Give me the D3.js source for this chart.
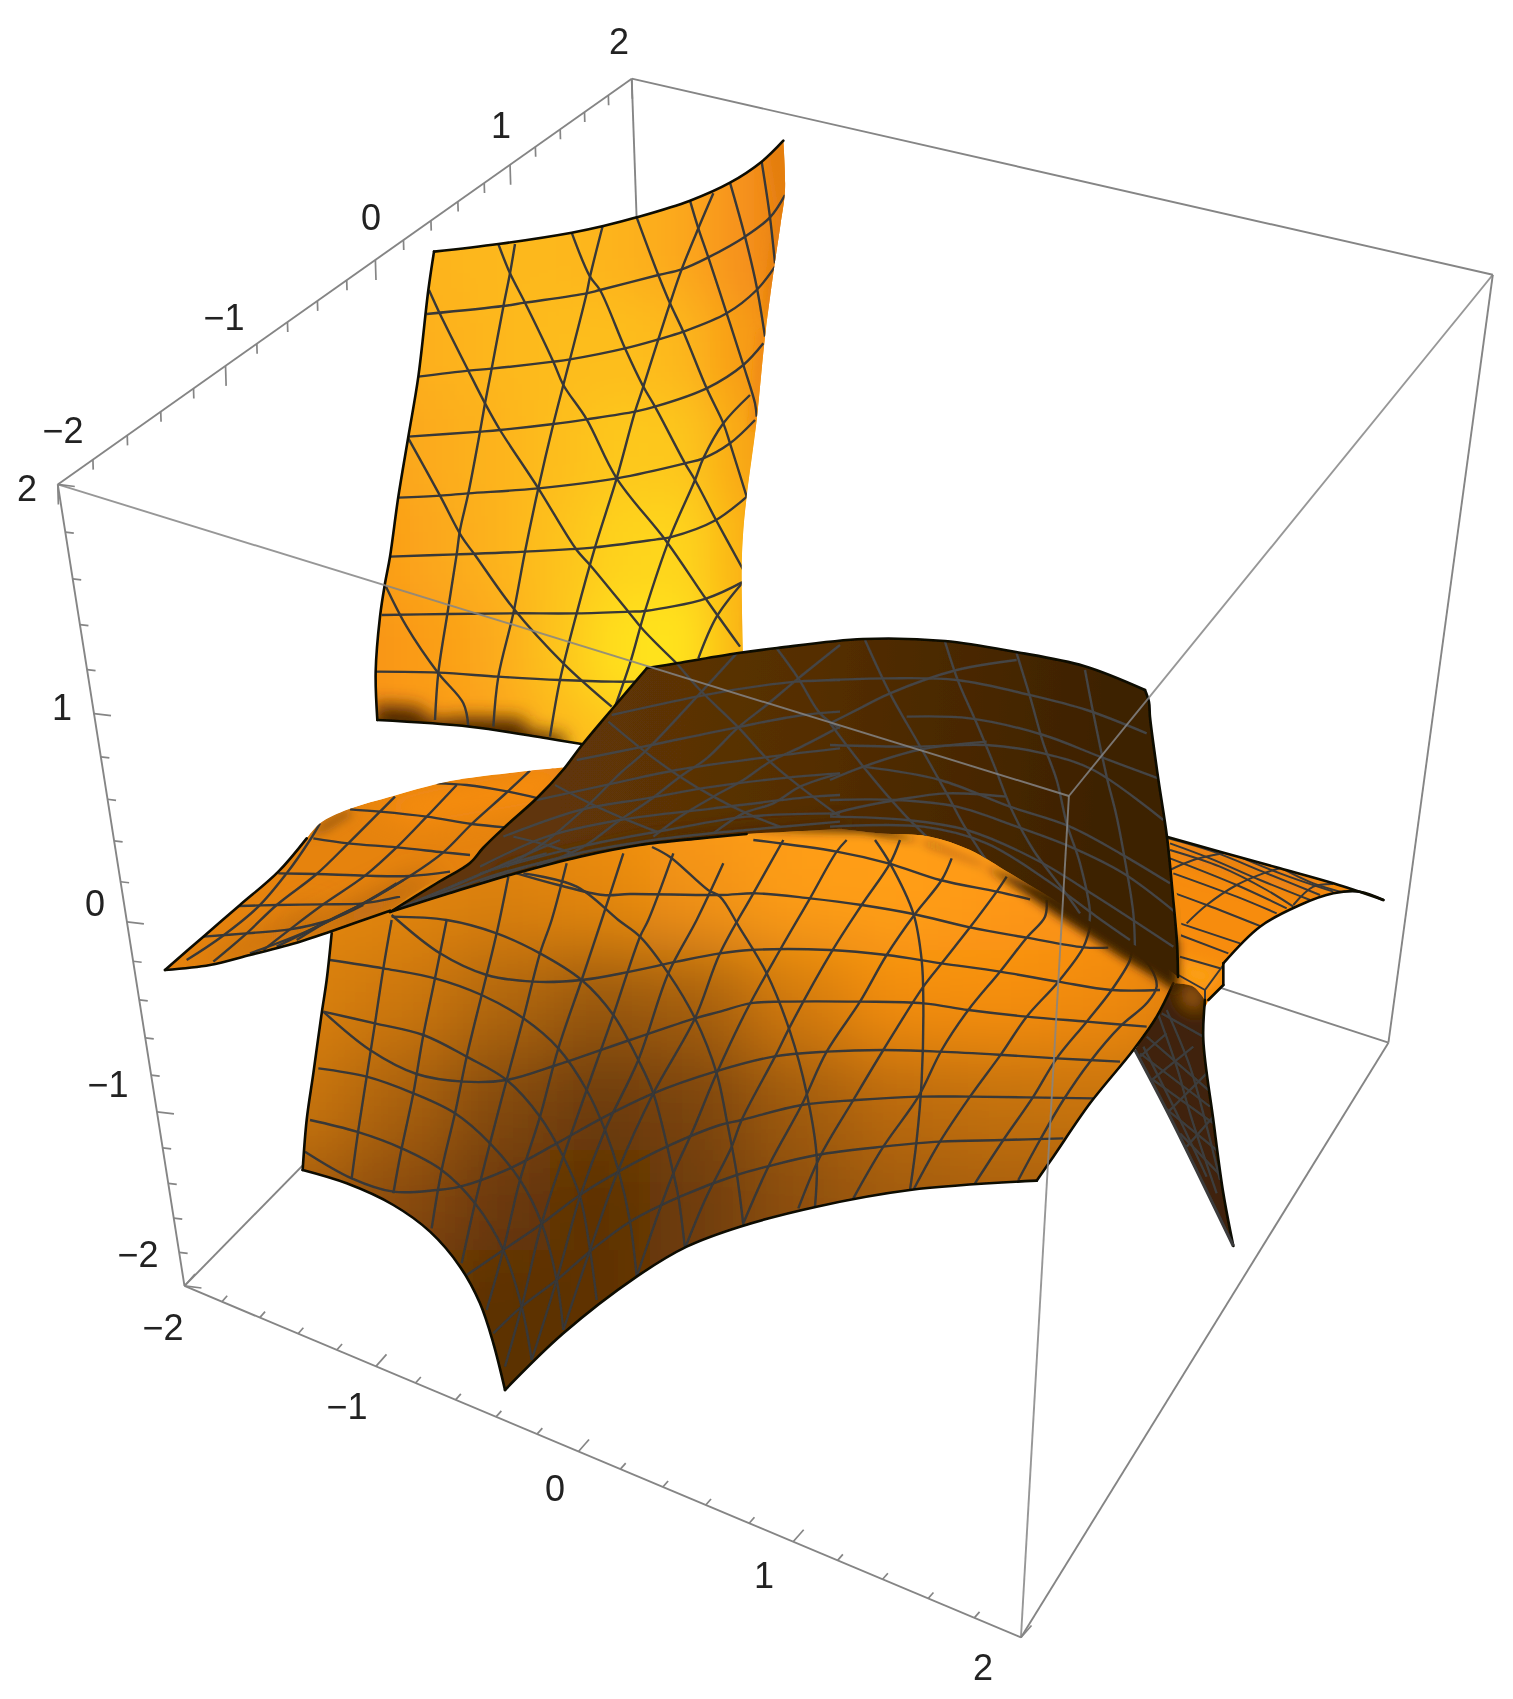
<!DOCTYPE html>
<html><head><meta charset="utf-8">
<script src="https://cdnjs.cloudflare.com/ajax/libs/d3/7.8.5/d3.min.js"></script>
<style>html,body{margin:0;padding:0;background:#fff}svg{display:block}</style></head>
<body><svg id="c" width="1513" height="1699"></svg>
<script>
// ---------- cube: domain corners and where they were read on the picture ----------
const cubeDomain = [[-2,-2,2],[-2,2,2],[2,2,2],[2,-2,2],[-2,-2,-2],[2,-2,-2],[2,2,-2]];
const cubeRead   = [[58,484],[632,79],[1493,274],[1068,797],[184,1286],[1022,1637],[1388,1043]];
const hiddenCorner = [-2,2,-2];
const tickValues = [-2,-1.8,-1.6,-1.4,-1.2,-1,-0.8,-0.6,-0.4,-0.2,0,0.2,0.4,0.6,0.8,1,1.2,1.4,1.6,1.8,2];
const labelValues = [-2,-1,0,1,2];
const xLabelAt = [[163,1327],[347,1406],[555,1488],[764,1575],[983,1667]];
const yLabelAt = [[63,430],[224,317],[371,217],[501,125],[619,41]];
const zLabelAt = [[138,1254],[108,1084],[95,903],[62,707],[27,488]];

const frameY=[360,130], frameL=[290,920], frameW=[150,720], frameDL=[480,640], frameDR=[830,630], frameR=[1080,780];

const yellowRuns=[
[[222,365],[415,342],[635,308],[730,288],[830,262],[990,212],[1110,158],[1205,95],[1270,32]],
[[1270,32],[1275,180],[1262,280],[1240,430],[1215,620],[1190,870],[1160,1100],[1150,1200],[1145,1320],[1150,1600]],
[[1150,1600],[760,1900],[665,1842]],
[[665,1842],[560,1825],[330,1790],[52,1770]],
[[52,1770],[47,1625],[60,1460],[75,1360],[90,1280],[115,1100],[145,920],[175,740],[205,480],[222,365]]
];
const yellowEdgeRuns=[0,3,4];
const yellowMesh=[
[[200,552],[430,528],[495,518],[680,490],[720,480],[895,435],[965,418],[1045,382],[1155,320],[1230,262],[1275,195]],
[[175,740],[325,722],[395,716],[580,695],[630,688],[795,655],[895,628],[970,605],[1100,550],[1190,480],[1245,410]],
[[145,920],[360,905],[420,900],[580,882],[680,868],[825,845],[885,830],[1040,775],[1150,705],[1210,640]],
[[115,1103],[240,1097],[325,1090],[535,1075],[770,1045],[975,1000],[1030,985],[1110,940],[1185,870]],
[[90,1280],[290,1273],[495,1265],[705,1252],[890,1228],[930,1222],[1068,1170],[1160,1100]],
[[65,1455],[265,1452],[460,1450],[650,1450],[810,1445],[855,1443],[1040,1405],[1150,1355]],
[[47,1625],[235,1628],[415,1640],[600,1650],[760,1655],[830,1655]],
[[465,342],[450,430],[430,530],[395,716],[375,820],[360,905],[325,1090],[300,1200],[290,1273],[262,1452],[235,1628],[225,1770]],
[[728,288],[690,440],[680,490],[630,688],[610,765],[580,882],[535,1075],[495,1265],[460,1450],[415,1640],[400,1790]],
[[1060,190],[1015,295],[965,418],[930,520],[895,628],[850,770],[825,845],[770,1045],[705,1252],[650,1450],[600,1650],[570,1820]],
[[1170,795],[1090,880],[1030,985],[1005,1050],[930,1222],[855,1443],[810,1600],[765,1730]],
[[1150,1355],[1070,1460],[1015,1585]],
[[415,342],[450,430],[495,518],[580,695],[610,765],[680,868],[770,1045],[920,1235],[1040,1410],[1140,1550]],
[[635,308],[690,440],[720,480],[795,655],[850,770],[885,830],[975,1000],[1005,1050],[1068,1170],[1150,1320]],
[[830,262],[895,435],[930,520],[970,605],[1040,775],[1090,880],[1110,940],[1160,1100]],
[[990,212],[1015,295],[1045,382],[1100,550],[1150,705],[1185,820],[1190,860]],
[[1110,158],[1155,320],[1190,470],[1215,620]],
[[1205,95],[1230,262],[1245,400]],
[[207,480],[240,552],[325,722],[375,820],[420,900],[535,1075],[650,1260],[690,1305],[805,1445],[850,1500],[950,1600]],
[[145,925],[240,1097],[305,1220],[345,1275],[460,1435],[610,1600],[755,1730]],
[[78,1370],[140,1490],[235,1630],[310,1720],[325,1790]]
];
const yellowFieldX=[380,440,500,560,620,680,740,800];
const yellowFieldY=[150,250,350,450,550,650,750,850];
const yellowFieldColors=[
["#fdaf1c","#fdb51d","#fdb81d","#fdb81d","#fdb31c","#fca81a","#f7921a","#e57e10"],
["#fdaf1c","#fdb51d","#fdb81d","#fdb81d","#fdb31c","#fca81a","#f7921a","#e57e10"],
["#fcab1b","#fdb11c","#fdb71d","#fdbc1d","#fdbe1d","#fdb81c","#f89c14","#ee8a10"],
["#fba41a","#fcac1b","#fdb41c","#fdbe1d","#fdc81e","#fdc71e","#f9a815","#f09012"],
["#fa9e19","#fba81a","#fdb31c","#fdc21e","#fed31f","#fed61f","#fbb218","#f5a014"],
["#f99618","#fa9f18","#fcac1a","#fdc41d","#ffe01f","#ffe41f","#fab416","#f5a014"],
["#f99217","#fa9a16","#fba217","#fdb71a","#fec71c","#fdd01d","#f9a913","#f5a014"],
["#f99217","#fa9a16","#fba217","#fdb71a","#fec71c","#fdd01d","#f9a913","#f5a014"]
];
const yellowShade=[
{c:"#e47e0e",b:6,p:[[1215,60],[1285,0],[1300,300],[1245,560],[1215,560],[1250,280]]},
{c:"#f08a12",b:4,p:[[1195,600],[1225,600],[1195,900],[1170,900]]},
{c:"#ef8d10",b:3,p:[[1165,1120],[1180,1120],[1165,1500],[1152,1500]]},
{c:"#4e2804",b:9,p:[[40,1722],[180,1732],[210,1772],[320,1762],[490,1766],[500,1802],[610,1816],[620,1880],[40,1832]]}
];

const lowerRuns=[
[[125,0],[125,40],[110,180],[95,280],[70,460],[50,600],[38,750]],
[[38,750],[170,790],[310,855],[420,935],[510,1040],[570,1150],[610,1270],[645,1410]],
[[645,1410],[820,1240],[1040,1070],[1190,980],[1350,920],[1580,860],[1860,810],[2240,782]],
[[2240,782],[2290,710],[2400,550],[2530,390],[2600,290],[2650,190]],
[[2650,190],[2650,-100],[2000,-400],[1000,-400],[300,-70],[125,0]]
];
const lowerEdgeRuns=[1,2,3];
const lowerLeftEdge=[[125,40],[110,180],[95,280],[70,460],[50,600],[38,750]];
const lowerMesh=[
[[45,695],[185,775],[310,815],[440,810],[510,800],[660,745],[800,670],[935,595],[1090,520],[1275,455],[1450,410],[1610,395],[1780,390],[1950,395],[2140,405],[2300,415],[2490,425]],
[[100,275],[240,390],[380,462],[520,485],[650,480],[800,435],[1020,360],[1215,295],[1290,275],[1380,250],[1480,245],[1710,245],[1900,250],[2035,270],[2210,290],[2390,305],[2570,320]],
[[305,-15],[450,100],[590,165],[730,185],[875,180],[1020,155],[1160,125],[1290,100],[1380,90],[1620,90],[1790,105],[1955,130],[2130,155],[2305,185],[2465,210],[2610,210]],
[[680,-140],[805,-105],[940,-75],[1020,-78],[1290,-75],[1400,-80],[1560,-65],[1715,-45],[1870,-18],[2040,22],[2210,53],[2380,82],[2455,83]],
[[1390,-240],[1640,-205],[1795,-170],[1950,-120],[2120,-85],[2220,-62]],
[[530,1065],[640,990],[750,915],[870,825],[985,755],[1130,680],[1290,615],[1355,600],[1535,555],[1700,540],[1885,530],[2040,530],[2410,535]],
[[610,1240],[695,1160],[800,1080],[905,990],[1020,905],[1170,830],[1340,765],[1430,740],[1580,705],[1780,680],[1950,665],[2140,660],[2320,655]],
[[120,120],[280,145],[435,175],[575,225],[700,295],[805,385],[890,510],[945,630],[985,750],[1020,905],[1040,1070]],
[[100,275],[255,310],[400,345],[530,410],[650,480],[750,590],[820,710],[870,830],[900,990],[920,1140]],
[[85,445],[230,470],[370,520],[495,580],[600,670],[690,780],[755,910],[800,1080],[820,1230]],
[[60,600],[200,635],[335,685],[455,750],[555,850],[640,990],[695,1160],[725,1320]],
[[305,-10],[470,0],[620,40],[750,100],[875,180],[970,285],[1045,420],[1090,520],[1150,760],[1165,830],[1185,985]],
[[700,-140],[860,-100],[985,0],[1050,50],[1135,160],[1215,295],[1280,460],[1310,600],[1340,760],[1360,915]],
[[1086,-219],[1140,-189],[1254,-90],[1290,-70],[1350,25],[1430,160],[1500,335],[1550,520],[1580,710],[1575,860]],
[[1755,-240],[1800,-170],[1870,-20],[1895,120],[1900,250],[1895,480],[1880,660],[1860,810]],
[[185,775],[205,630],[230,470],[255,310],[280,145],[305,0]],
[[310,820],[335,685],[370,520],[400,345],[435,175],[470,0]],
[[425,925],[455,750],[495,580],[530,410],[575,225],[620,40],[655,-130]],
[[515,1030],[555,850],[600,670],[650,480],[700,295],[750,100],[785,0],[830,-170]],
[[590,1170],[640,990],[690,780],[750,590],[805,385],[875,180],[935,0],[1000,-200]],
[[645,1340],[695,1160],[755,910],[820,710],[890,510],[970,285],[1050,50],[1075,0],[1150,-200]],
[[725,1320],[800,1080],[870,830],[945,630],[1045,420],[1135,160],[1220,0],[1300,-170]],
[[820,1230],[900,990],[985,750],[1090,520],[1215,295],[1290,100],[1390,-80],[1480,-240]],
[[1040,1070],[1105,880],[1150,760],[1205,640],[1280,460],[1370,270],[1470,90],[1560,-65],[1640,-205],[1670,-240]],
[[1185,985],[1245,840],[1325,680],[1355,600],[1455,410],[1505,310],[1625,95],[1715,-45],[1800,-170],[1830,-240]],
[[1360,910],[1440,730],[1535,555],[1610,395],[1710,245],[1790,105],[1875,-18],[1955,-120],[1985,-185]],
[[1525,865],[1590,710],[1690,540],[1780,390],[1900,200],[1955,130],[2040,22],[2120,-85],[2150,-130]],
[[1690,835],[1780,680],[1885,530],[1955,390],[2035,270],[2130,155],[2210,53],[2265,-10],[2270,-60]],
[[1870,810],[1950,665],[2040,530],[2135,400],[2210,290],[2305,185],[2380,82],[2405,0]],
[[2055,790],[2140,660],[2230,530],[2300,415],[2390,305],[2465,210],[2520,120],[2525,90]],
[[2185,780],[2250,660],[2320,540],[2400,425],[2490,320],[2570,250],[2600,200],[2580,140],[2530,90],[2440,20]]
];
const lowerFieldX=[300,400,500,600,700,800,900,1000,1100,1200];
const lowerFieldY=[800,900,1000,1100,1200,1300,1400];
const lowerFieldColors=[
["#e88a10","#e88a10","#e8890f","#f08e10","#fb9a13","#ff9e13","#ff9e13","#fe9c13","#fb9613","#f08a10"],
["#e3860f","#e0840f","#d97f0f","#e2860f","#f19212","#fd9c13","#ff9e13","#fe9813","#fb9213","#f08a10"],
["#d9800f","#cc770f","#b0660c","#965609","#a55f0c","#d37a0f","#f28d11","#f58e11","#f08a10","#e0800f"],
["#c8750f","#a9610c","#824a09","#6c3a07","#7c4509","#a05b0b","#bb6a0c","#c3710d","#c8740d","#b86a0c"],
["#a55d0b","#8a4c09","#6a3807","#5d3106","#6f3c07","#8e500a","#a25b0b","#aa600b","#aa600b","#aa600b"],
["#6a3807","#6a3807","#5b3005","#5f3206","#6e3b07","#8a4d09","#a05a0a","#a05a0a","#a05a0a","#a05a0a"],
["#5b3005","#5b3005","#5b3005","#5f3206","#6e3b07","#8a4d09","#a05a0a","#a05a0a","#a05a0a","#a05a0a"]
];

const wingRuns=[
[[720,572],[540,635],[450,665],[300,705],[180,735],[45,750]],
[[45,750],[160,650],[270,555],[385,455],[470,355]],
[[470,355],[510,310],[595,268],[730,228],[870,190],[950,175],[1140,152],[1245,142]],
[[1245,142],[1300,200],[1000,450],[860,480],[720,572]]
];
const wingEdgeRuns=[0,1];
const wingMesh=[
[[490,355],[595,370],[740,382],[880,397],[960,405]],
[[385,460],[500,462],[645,467],[780,468],[900,455]],
[[265,558],[380,555],[520,553],[640,550],[750,530]],
[[160,650],[290,640],[420,628],[540,600],[640,555]],
[[600,268],[690,275],[830,290],[965,312],[1065,322]],
[[860,190],[950,195],[1075,215],[1165,235]],
[[735,230],[690,275],[595,370],[500,462],[380,555],[290,640],[190,725]],
[[920,195],[830,290],[740,382],[645,467],[520,553],[420,628],[340,690]],
[[1140,152],[1065,222],[965,312],[880,397],[780,468],[640,550],[540,600],[440,660]],
[[510,310],[480,360],[410,460],[325,560],[215,650],[110,720]],
[[380,680],[500,620],[640,550],[740,490]],
[[300,700],[480,630],[660,540],[760,480]]
];
const wingShade=[
{c:"#a55c0c",b:14,p:[[400,660],[800,470],[880,470],[640,610]]},
{c:"#bc6a0d",b:14,p:[[100,745],[500,560],[520,620],[250,720]]},
{c:"#f88d10",b:14,p:[[640,250],[1250,130],[1210,240],[800,310]]},
{c:"#a96210",b:5,p:[[478,350],[515,305],[590,265],[610,285],[530,335]]}
];

const darkRuns=[
[[-270,816],[-129,729],[-30,669],[9,624],[81,555],[171,474],[249,390],[306,315],[399,204],[501,84]],
[[501,84],[590,70],[770,40],[891,24],[1149,-3],[1395,3],[1608,36],[1812,78],[1995,150]],
[[1995,150],[2007,186],[2010,231],[2034,411],[2061,591],[2079,771],[2091,909],[2094,1011]],
[[2094,1011],[2080,1000],[1990,930],[1910,890],[1840,850],[1770,810],[1690,760],[1590,700],[1470,630],[1350,590],[1200,580],[1080,566]],
[[1080,566],[920,575],[800,582],[660,595],[480,615],[300,650],[111,699],[-90,759],[-270,816]]
];
const darkEdgeRuns=[0,1,2];
const darkLowEdge=[[800,582],[660,595],[480,615],[300,650],[111,699],[-90,759],[-270,816]];
const darkFuzz=[[800,570],[1150,575],[1350,610],[1500,670],[1620,750],[1720,820],[1820,885],[1920,950],[2020,1010],[2094,1060],[2094,900],[1150,540]];
const darkShade=[
{c:"#462604",b:10,p:[[60,700],[500,600],[1100,555],[1100,595],[500,640],[60,740]]}
];
const darkMeshLeft=[
[[590,70],[660,150],[775,262],[870,365],[960,440],[1080,530]],
[[385,245],[495,335],[600,410],[700,470],[800,520],[900,560]],
[[225,435],[330,490],[430,535],[530,575]],
[[100,590],[200,615],[280,640]],
[[890,25],[955,115],[1020,220],[1080,265]],
[[770,40],[660,160],[495,335],[420,400],[330,490],[190,610],[80,680]],
[[1080,15],[955,115],[860,195],[775,262],[680,355],[600,410],[510,480],[420,540],[310,620],[170,680]],
[[1080,260],[965,320],[870,365],[790,420],[700,470],[600,530],[520,590]],
[[1080,400],[960,440],[880,490],[790,520],[700,580]],
[[395,225],[650,170],[790,145],[950,125],[1080,120]],
[[290,360],[490,320],[770,262],[970,225],[1080,215]],
[[170,480],[400,430],[590,390],[870,350],[1080,325]],
[[70,590],[300,510],[500,475],[700,440],[950,410],[1080,400]],
[[0,680],[200,590],[420,540],[700,505],[1000,470],[1080,465]],
[[0,700],[300,620],[560,570],[800,530],[1080,520]],
[[0,725],[250,650],[520,600],[800,570],[1080,545]],
[[-260,812],[-100,745],[60,680],[200,640]],
[[-260,814],[-60,730],[100,660],[240,600]],
[[-260,816],[-100,755],[60,700],[300,640]]
];
const darkMeshRight=[
[[105,30],[180,190],[265,340],[350,490],[410,600],[510,740],[600,800]],
[[345,35],[385,155],[440,280],[490,400],[550,550],[610,660],[700,780],[750,850]],
[[560,70],[600,200],[640,340],[680,450],[710,580],[750,700],[780,850],[770,920]],
[[765,120],[790,250],[830,440],[860,560],[890,720],[910,850],[915,960]],
[[0,280],[100,410],[220,550],[290,620]],
[[0,150],[170,145],[380,150],[600,195],[770,240],[950,310]],
[[230,260],[420,265],[640,315],[810,380],[985,445]],
[[0,345],[250,350],[470,345],[640,370],[790,420],[1000,570]],
[[100,410],[330,450],[540,530],[720,590],[870,670],[1020,760]],
[[0,510],[200,510],[380,530],[560,590],[720,650],[880,730],[1040,850]],
[[0,560],[230,570],[410,600],[620,690],[800,800],[1030,950]],
[[0,590],[280,590],[470,640],[650,750],[800,860],[900,930]],
[[560,90],[380,120],[180,190],[70,245],[0,280]],
[[470,335],[265,360],[100,410],[0,450]],
[[530,500],[350,490],[200,510],[50,540],[0,555]]
];

const rightRuns=[
[[260,170],[420,215],[600,265],[760,310],[910,360]],
[[910,360],[840,335],[760,340],[660,375],[540,440],[430,550]],
[[430,550],[430,615]],
[[430,615],[385,660]],
[[385,660],[375,680],[200,700],[200,170],[260,170]]
];
const rightEdgeRuns=[0,1,2,3];
const rightMesh=[
[[270,210],[420,260],[560,330],[640,380]],
[[280,280],[470,350],[590,400]],
[[285,340],[380,375],[545,440]],
[[300,430],[480,490]],[[300,465],[445,520]],[[300,530],[420,565]],[[295,585],[375,630]],[[375,630],[430,555]],
[[265,175],[400,215],[560,280],[720,345]],
[[270,190],[390,235],[540,300],[690,360]],
[[270,235],[470,315],[620,385]],
[[420,205],[600,280],[760,335]],
[[600,262],[700,310],[800,340]],
[[320,430],[380,375],[470,315],[550,280],[600,265]],
[[640,375],[700,320],[760,312]],
[[270,270],[340,240],[430,220]],
[[375,630],[375,680]]
];
const rightShade=[
{c:"#fca314",b:8,p:[[300,540],[420,570],[380,630],[300,590]]},
{c:"#e57e0e",b:10,p:[[260,170],[760,310],[700,350],[300,240]]}
];

const spikeRuns=[
[[285,610],[165,810]],
[[165,810],[275,1020],[460,1398]],
[[460,1398],[430,1240],[400,1020],[370,780],[375,660]],
[[375,660],[340,620],[285,610]]
];
const spikeEdgeRuns=[2];
const spikeLeftRim=[[165,810],[275,1020],[460,1398]];
const spikeMesh=[
[[200,770],[385,930]],[[180,820],[390,980]],[[220,900],[400,1030]],[[250,980],[410,1110]],[[300,1060],[425,1190]],
[[230,690],[290,860],[330,1000],[410,1240]],[[260,690],[330,860],[375,1020],[420,1200]],
[[190,800],[300,1020],[380,1190]],
[[260,760],[180,830]],[[340,800],[215,900]],[[380,880],[260,1000]],[[400,1010],[320,1100]],
[[245,700],[370,770]]
];
const spikeShade=[{c:"#b3660f",b:9,p:[[295,610],[370,630],[360,700],[310,670]]}];

// ---------- drawing ----------
const svg=d3.select("#c");
const defs=svg.append("defs");
const line=d3.line();
const curve=d3.line().curve(d3.curveCatmullRom.alpha(0.5));
function frameScales(f){return{x:d3.scaleLinear().domain([0,3]).range([f[0],f[0]+1]),y:d3.scaleLinear().domain([0,3]).range([f[1],f[1]+1])};}
function toPage(pts,f){const s=frameScales(f);return pts.map(p=>[s.x(p[0]),s.y(p[1])]);}
function runsPath(runs,f){return runs.map((r,i)=>{const d=curve(toPage(r,f));return i?"L"+d.slice(1):d;}).join("")+"Z";}
const blurs=new Set();
function blurFilter(b){const id="blur"+b;if(!blurs.has(b)){blurs.add(b);
 defs.append("filter").attr("id",id).attr("filterUnits","userSpaceOnUse").attr("x",-100).attr("y",-100).attr("width",1800).attr("height",1900)
 .append("feGaussianBlur").attr("stdDeviation",b);}return"url(#"+id+")";}
const soft=defs.append("filter").attr("id","soft").attr("filterUnits","userSpaceOnUse").attr("x",0).attr("y",0).attr("width",1513).attr("height",1699);
soft.append("feGaussianBlur").attr("stdDeviation",0.5);
const darkGrad=defs.append("linearGradient").attr("id","darkGrad").attr("gradientUnits","userSpaceOnUse").attr("x1",560).attr("y1",760).attr("x2",1120).attr("y2",800);
[[0,"#613607"],[0.45,"#542e05"],[1,"#3c2103"]].forEach(s=>darkGrad.append("stop").attr("offset",s[0]).attr("stop-color",s[1]));
const root=svg.append("g").attr("filter","url(#soft)");
root.append("rect").attr("width",1513).attr("height",1699).attr("fill","#fff");

function fitCamera(dom,img){
 const rows=[],rhs=[];
 dom.forEach((d,i)=>{const[X,Y,Z]=d,[u,v]=img[i];
  rows.push([X,Y,Z,1,0,0,0,0,-u*X,-u*Y,-u*Z]);rhs.push(u);
  rows.push([0,0,0,0,X,Y,Z,1,-v*X,-v*Y,-v*Z]);rhs.push(v);});
 const n=11,A=d3.range(n).map(()=>new Array(n+1).fill(0));
 rows.forEach((r,k)=>{for(let i=0;i<n;i++){for(let j=0;j<n;j++)A[i][j]+=r[i]*r[j];A[i][n]+=r[i]*rhs[k];}});
 for(let c=0;c<n;c++){let m=c;for(let r=c+1;r<n;r++)if(Math.abs(A[r][c])>Math.abs(A[m][c]))m=r;[A[c],A[m]]=[A[m],A[c]];
  for(let r=0;r<n;r++)if(r!==c){const f=A[r][c]/A[c][c];for(let j=c;j<=n;j++)A[r][j]-=f*A[c][j];}}
 return A.map((r,i)=>r[n]/r[i]);
}
const P=fitCamera(cubeDomain,cubeRead);
function proj(d){const[X,Y,Z]=d,w=P[8]*X+P[9]*Y+P[10]*Z+1;return[(P[0]*X+P[1]*Y+P[2]*Z+P[3])/w,(P[4]*X+P[5]*Y+P[6]*Z+P[7])/w];}
const boxStroke="#858585";
function edge(g,a,b,op){g.append("path").attr("d",line([proj(a),proj(b)])).attr("fill","none").attr("stroke",boxStroke).attr("stroke-width",1.9).attr("stroke-opacity",op||1);}
const [cB,cA,cC,cD,cE,cF,cG]=cubeDomain;
const back=root.append("g");
[[cA,hiddenCorner],[cE,hiddenCorner],[cG,hiddenCorner],[cA,cC],[cA,cB],[cB,cE],[cE,cF],[cF,cG],[cC,cG]].forEach(e=>edge(back,e[0],e[1]));
function ticks(make,dir,major){tickValues.forEach(t=>{const p=proj(make(t)),big=Number.isInteger(t),l=big?major:major*0.5;
 back.append("line").attr("x1",p[0]).attr("y1",p[1]).attr("x2",p[0]+dir[0]*l).attr("y2",p[1]+dir[1]*l).attr("stroke",boxStroke).attr("stroke-width",1.7);});}
ticks(t=>[t,-2,-2],[0.66,-0.75],16);
ticks(t=>[-2,t,2],[0.03,1],20);
ticks(t=>[-2,-2,t],[1,0.12],17);

let sheetId=0;
function colourField(g,xs,ys,colors,blur){
 const fg=g.append("g").attr("filter",blurFilter(blur));
 const stepX=xs[1]-xs[0],stepY=ys[1]-ys[0];
 ys.forEach((y,r)=>xs.forEach((x,c)=>{
  fg.append("rect").attr("x",x-stepX/2-(c===0?300:0)).attr("y",y-stepY/2-(r===0?300:0))
   .attr("width",stepX+0.5+(c===0||c===xs.length-1?300:0)).attr("height",stepY+0.5+(r===0||r===ys.length-1?300:0))
   .attr("fill",colors[r][c]);}));
}
function sheet(o){
 const id="sheet"+(++sheetId),f=o.frame,page=runsPath(o.runs,f);
 defs.append("clipPath").attr("id",id).append("path").attr("d",page);
 const g=root.append("g").attr("clip-path","url(#"+id+")");
 g.append("path").attr("d",page).attr("fill",o.fill);
 if(o.field)colourField(g,o.field[0],o.field[1],o.field[2],o.field[3]);
 (o.shade||[]).forEach(s=>g.append("path").attr("d",line(toPage(s.p,f))+"Z").attr("fill",s.c).attr("filter",blurFilter(s.b)));
 const mc=o.meshColor||"#373737",mw=o.meshWidth||2.4;
 g.selectAll(null).data(o.mesh||[]).join("path").attr("d",d=>curve(toPage(d,f))).attr("fill","none").attr("stroke",mc).attr("stroke-width",mw).attr("stroke-linejoin","round");
 if(o.meshB) g.selectAll(null).data(o.meshB).join("path").attr("d",d=>curve(toPage(d,o.frameB))).attr("fill","none").attr("stroke",mc).attr("stroke-width",mw).attr("stroke-linejoin","round");
 const edges=(o.edgeRuns||[]).map(i=>o.runs[i]).concat(o.moreEdges||[]);
 root.selectAll(null).data(edges).join("path").attr("d",d=>curve(toPage(d,f))).attr("fill","none").attr("stroke","#0c0a06").attr("stroke-width",o.edgeWidth||2.6).attr("stroke-linejoin","round").attr("stroke-linecap","round");
}
sheet({frame:frameR,runs:rightRuns,fill:"#f78c10",shade:rightShade,mesh:rightMesh,edgeRuns:rightEdgeRuns,meshWidth:2});
sheet({frame:frameR,runs:spikeRuns,fill:"#3f2207",shade:spikeShade,mesh:spikeMesh,edgeRuns:spikeEdgeRuns,meshColor:"#3c3c3c"});
root.append("path").attr("d",curve(toPage(spikeLeftRim,frameR))).attr("fill","none").attr("stroke","#3a3a3a").attr("stroke-width",3.2);
sheet({frame:frameY,runs:yellowRuns,fill:"#fdb41c",field:[yellowFieldX,yellowFieldY,yellowFieldColors,24],shade:yellowShade,mesh:yellowMesh,edgeRuns:yellowEdgeRuns});
sheet({frame:frameL,runs:lowerRuns,fill:"#e3850f",field:[lowerFieldX,lowerFieldY,lowerFieldColors,34],mesh:lowerMesh,edgeRuns:lowerEdgeRuns,moreEdges:[lowerLeftEdge]});
sheet({frame:frameW,runs:wingRuns,fill:"#e6830e",shade:wingShade,mesh:wingMesh,edgeRuns:wingEdgeRuns});
root.append("path").attr("d",line(toPage(darkFuzz,frameDL))+"Z").attr("fill","#3c2103").attr("filter",blurFilter(5));
sheet({frame:frameDL,runs:darkRuns,fill:"url(#darkGrad)",shade:darkShade,mesh:darkMeshLeft,meshB:darkMeshRight,frameB:frameDR,edgeRuns:darkEdgeRuns,moreEdges:[darkLowEdge],meshColor:"#444444"});

const front=root.append("g");
[[cB,cD],[cC,cD],[cD,cF]].forEach(e=>edge(front,e[0],e[1],0.85));

function labels(at){const g=root.append("g");labelValues.forEach((v,i)=>{g.append("text").attr("x",at[i][0]).attr("y",at[i][1]).attr("text-anchor","middle").attr("dominant-baseline","central").attr("font-family","'Liberation Sans',sans-serif").attr("font-size",36).attr("fill","#222").text(v<0?"\u2212"+(-v):String(v));});}
labels(xLabelAt);labels(yLabelAt);labels(zLabelAt);
</script></body></html>
